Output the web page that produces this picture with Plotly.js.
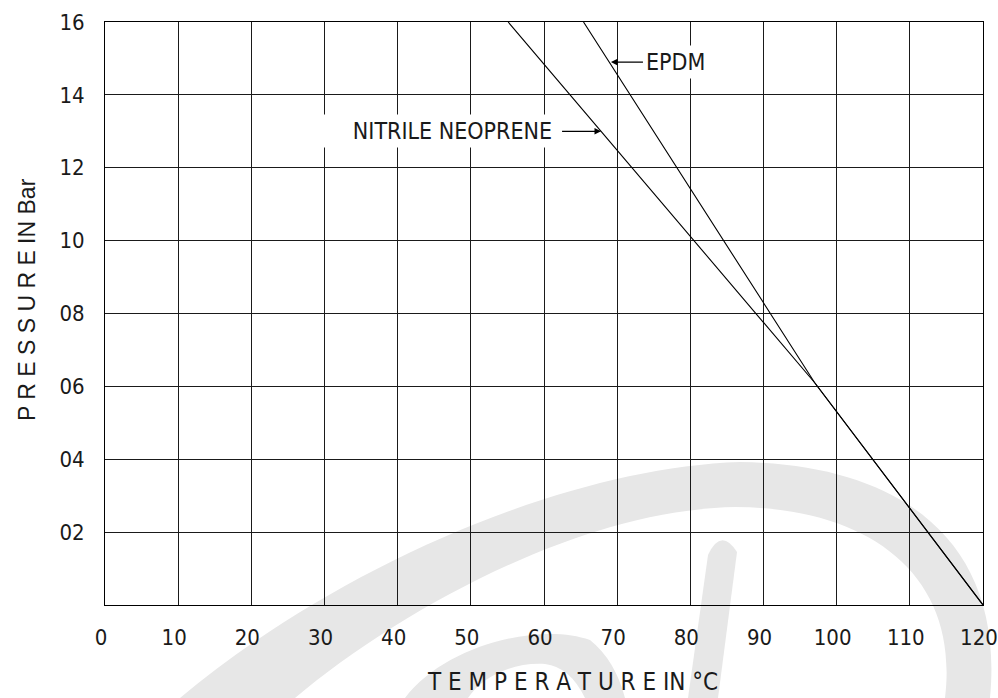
<!DOCTYPE html>
<html>
<head>
<meta charset="utf-8">
<script src="https://cdn.plot.ly/plotly-3.0.1.min.js"></script>
<style>
  html, body { margin: 0; padding: 0; background: #ffffff; }
  #wrap { position: relative; width: 998px; height: 698px; overflow: hidden; }
  #wm { position: absolute; left: 0; top: 0; }
  #chart { position: absolute; left: 0; top: 0; width: 998px; height: 698px; }
</style>
</head>
<body>
<div id="wrap">
  <svg id="wm" width="998" height="698" viewBox="0 0 998 698">
    <g fill="#e7e7e7">
      <path d="M 180 698 C 330 572 560 468 740 462 C 900 464 1005 540 990 698 L 945 698 C 960 575 870 508 735 507 C 580 510 400 610 295 698 Z"/>
      <path d="M 688 698 L 708 555 Q 721 527 737 552 L 718 698 Z"/>
      <path d="M 405 698 C 445 645 540 622 590 640 Q 615 660 625 698 L 585 698 Q 570 667 545 664 C 512 662 482 677 468 698 Z"/>
    </g>
  </svg>
  <div id="chart"></div>
</div>
<script>
// Temperature (°C) vs maximum pressure (bar)
const nitrileTemp = [55.1, 97, 120];
const nitrilePressure = [16, 6.1, 0];
const epdmTemp = [65.4, 97, 120];
const epdmPressure = [16, 6.1, 0];

const xTickVals = [0, 10, 20, 30, 40, 50, 60, 70, 80, 90, 100, 110, 120];
const xTickText = ["0", "10", "20", "30", "40", "50", "60", "70", "80", "90", "100", "110", "120"];
const yTickVals = [2, 4, 6, 8, 10, 12, 14, 16];
const yTickText = ["02", "04", "06", "08", "10", "12", "14", "16"];

const xTitle = "T E M P E R A T U R E IN °C";
const yTitle = "P R E S S U R E IN Bar";

const narrow = "Liberation Sans Narrow, DejaVu Sans Condensed, Arial Narrow, sans-serif";
const regular = "Liberation Sans, DejaVu Sans, Arial, sans-serif";
const ink = "#1a1a1a";

const traces = [
  {
    x: nitrileTemp, y: nitrilePressure, name: "NITRILE NEOPRENE",
    type: "scatter", mode: "lines",
    line: { color: "#000000", width: 1.1 },
    hoverinfo: "skip"
  },
  {
    x: epdmTemp, y: epdmPressure, name: "EPDM",
    type: "scatter", mode: "lines",
    line: { color: "#000000", width: 1.1 },
    hoverinfo: "skip"
  }
];

const NB = "\u00a0";

const layout = {
  width: 998, height: 698,
  margin: { l: 105, r: 15, t: 22, b: 93 },
  paper_bgcolor: "rgba(0,0,0,0)",
  plot_bgcolor: "rgba(0,0,0,0)",
  showlegend: false,
  xaxis: {
    range: [0, 120],
    tickvals: xTickVals, ticktext: xTickText,
    showgrid: true, gridcolor: "#1a1a1a", gridwidth: 1,
    zeroline: false,
    showline: true, linecolor: "#000000", linewidth: 1, mirror: true,
    ticks: "", ticklabelstandoff: 13, ticklabelshift: -4,
    tickfont: { family: narrow, size: 22, color: ink },
    automargin: false
  },
  yaxis: {
    range: [0, 16],
    tickvals: yTickVals, ticktext: yTickText,
    showgrid: true, gridcolor: "#1a1a1a", gridwidth: 1,
    zeroline: false,
    showline: true, linecolor: "#000000", linewidth: 1, mirror: true,
    ticks: "", ticklabelstandoff: 15,
    tickfont: { family: narrow, size: 22, color: ink },
    automargin: false
  },
  annotations: [
    {
      // x-axis title
      xref: "paper", yref: "paper", x: 0.532, y: -0.1321,
      xanchor: "center", yanchor: "middle",
      text: xTitle, showarrow: false, borderpad: 0,
      font: { family: narrow, size: 24, color: ink }
    },
    {
      // y-axis title
      xref: "paper", yref: "paper", x: -0.0888, y: 0.523,
      xanchor: "center", yanchor: "middle", textangle: -90,
      text: yTitle, showarrow: false,
      font: { family: regular, size: 23, color: ink }
    },
    {
      x: 69.15, y: 14.9, xref: "x", yref: "y",
      text: "EPDM",
      showarrow: true, arrowhead: 2, arrowsize: 1.1, arrowwidth: 1.2, arrowcolor: "#000000",
      ax: 65, ay: 0,
      font: { family: narrow, size: 23, color: ink },
      bgcolor: "#ffffff", borderpad: 3
    },
    {
      x: 67.8, y: 13.0, xref: "x", yref: "y",
      text: NB.repeat(5) + "NITRILE NEOPRENE" + NB,
      showarrow: true, arrowhead: 2, arrowsize: 1.1, arrowwidth: 1.2, arrowcolor: "#000000",
      ax: -162, ay: 0,
      font: { family: narrow, size: 23, color: ink },
      bgcolor: "#ffffff", borderpad: 3
    }
  ]
};

Plotly.newPlot("chart", traces, layout, { displayModeBar: false, staticPlot: true });
</script>
</body>
</html>
